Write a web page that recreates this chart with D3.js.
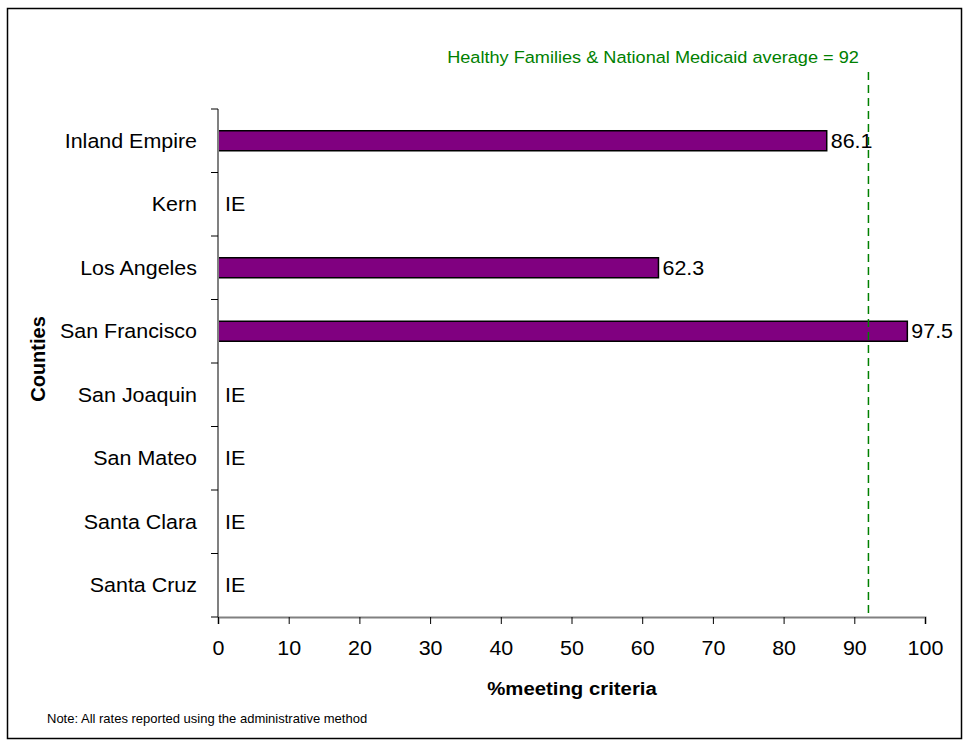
<!DOCTYPE html>
<html>
<head>
<meta charset="utf-8">
<script src="https://cdn.jsdelivr.net/npm/d3@7"></script>
<style>
  html, body { margin: 0; padding: 0; background: #fff; }
  svg { display: block; font-family: "Liberation Sans", Arial, sans-serif; }
</style>
</head>
<body>
<svg id="chart" width="970" height="747"></svg>
<script>
// County rates; null means insufficient eligible population (shown as "IE")
const counties = ["Inland Empire", "Kern", "Los Angeles", "San Francisco",
                  "San Joaquin", "San Mateo", "Santa Clara", "Santa Cruz"];
const rates = [86.1, null, 62.3, 97.5, null, null, null, null];
const xTicks = [0, 10, 20, 30, 40, 50, 60, 70, 80, 90, 100];
const benchmark = 92;
const benchmarkLabel = "Healthy Families & National Medicaid average = 92";

const svg = d3.select("#chart");
const SX = 1.1; // slightly wide lettering

// text placed at (x, y) with horizontal widening
function widen(sel, fx, fy, sx = SX) {
  return sel.attr("x", 0).attr("y", 0)
    .attr("transform", (d, i) => `translate(${typeof fx === "function" ? fx(d, i) : fx},${typeof fy === "function" ? fy(d, i) : fy}) scale(${sx},1)`);
}

// outer frame
svg.append("rect")
  .attr("x", 7.5).attr("y", 8.5).attr("width", 954).attr("height", 730)
  .attr("fill", "#fff").attr("stroke", "#000").attr("stroke-width", 1.5);

const x = d3.scaleLinear().domain([0, 100]).range([218, 925]);
const y = d3.scaleBand().domain(counties).range([109, 617]).padding(0);
const barH = y.bandwidth() * 0.315;

const data = counties.map((c, i) => ({ county: c, value: rates[i] }));

// bars
svg.append("g").selectAll("rect")
  .data(data.filter(d => d.value !== null))
  .join("rect")
  .attr("x", x(0))
  .attr("y", d => y(d.county) + (y.bandwidth() - barH) / 2)
  .attr("width", d => x(d.value) - x(0))
  .attr("height", barH)
  .attr("fill", "#800080")
  .attr("stroke", "#000")
  .attr("stroke-width", 1.5);

// value labels / IE markers
widen(svg.append("g").selectAll("text")
  .data(data)
  .join("text")
  .attr("dy", "0.36em")
  .attr("font-size", 19.5)
  .attr("fill", "#000")
  .text(d => d.value === null ? "IE" : d.value.toFixed(1)),
  d => d.value === null ? x(0) + 7 : x(d.value) + 4,
  d => y(d.county) + y.bandwidth() / 2);

// x axis
const xAxis = svg.append("g")
  .attr("transform", `translate(0,617)`)
  .call(d3.axisBottom(x).tickValues(xTicks).tickSize(7).tickFormat(d3.format("d")));
xAxis.select(".domain").attr("stroke", "#808080").attr("stroke-width", 2);
xAxis.selectAll(".tick line").attr("stroke", "#000");
xAxis.selectAll(".tick text")
  .attr("font-size", 19.5).attr("fill", "#000")
  .attr("font-family", "Liberation Sans, Arial, sans-serif")
  .attr("dy", null)
  .attr("transform", `translate(0,37.5) scale(${SX},1)`)
  .attr("y", 0);

// y axis: line plus ticks at category boundaries, labels centred in each band
const yAxis = svg.append("g");
yAxis.append("line")
  .attr("x1", x(0)).attr("x2", x(0)).attr("y1", 109).attr("y2", 617)
  .attr("stroke", "#808080").attr("stroke-width", 2);
const edges = counties.map(c => y(c)).concat([y.range()[1]]);
yAxis.selectAll("line.tk")
  .data(edges)
  .join("line").attr("class", "tk")
  .attr("x1", x(0) - 7).attr("x2", x(0))
  .attr("y1", d => d).attr("y2", d => d)
  .attr("stroke", "#000");
widen(yAxis.selectAll("text")
  .data(counties)
  .join("text")
  .attr("dy", "0.36em")
  .attr("text-anchor", "end")
  .attr("font-size", 19.5)
  .attr("fill", "#000")
  .text(d => d),
  x(0) - 21,
  d => y(d) + y.bandwidth() / 2);

// benchmark line
svg.append("line")
  .attr("x1", x(benchmark)).attr("x2", x(benchmark))
  .attr("y1", 72).attr("y2", 617)
  .attr("stroke", "#008000").attr("stroke-width", 1.5)
  .attr("stroke-dasharray", "8,5");
widen(svg.append("text")
  .attr("text-anchor", "middle")
  .attr("font-size", 16.5)
  .attr("fill", "#008000")
  .text(benchmarkLabel), 653, 63);

// axis titles
widen(svg.append("text")
  .attr("text-anchor", "middle")
  .attr("font-size", 18.5).attr("font-weight", "bold")
  .text("%meeting criteria"), 572, 695);
svg.append("text")
  .attr("transform", "translate(45,359) rotate(-90)")
  .attr("text-anchor", "middle")
  .attr("font-size", 20).attr("font-weight", "bold")
  .text("Counties");

// footnote
widen(svg.append("text")
  .attr("font-size", 13)
  .text("Note: All rates reported using the administrative method"), 47, 723, 1.0);
</script>
</body>
</html>
